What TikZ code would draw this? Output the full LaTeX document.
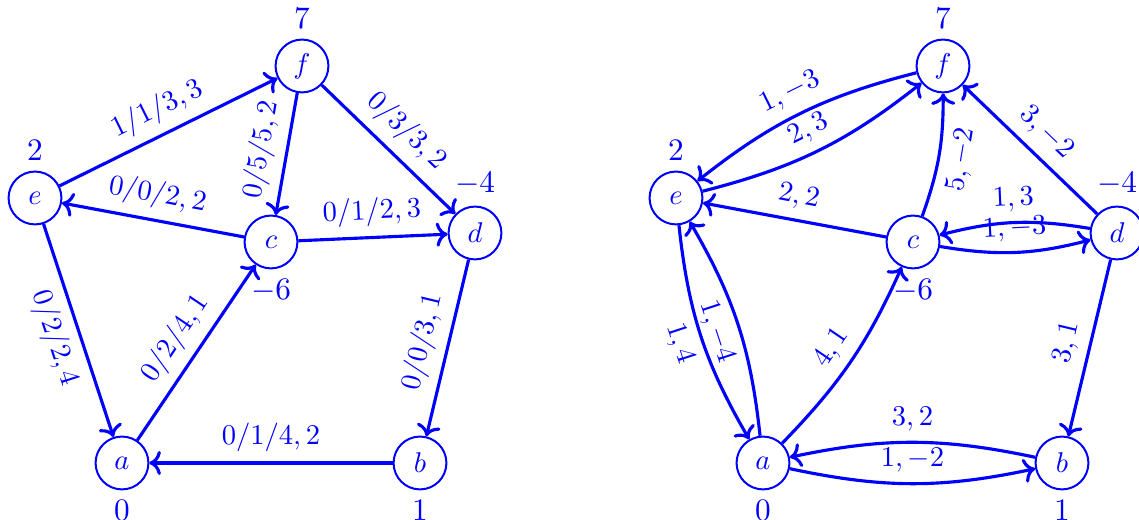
\documentclass[tikz,border=0pt]{standalone}
\usetikzlibrary{arrows.meta}
\begin{document}
\begin{tikzpicture}[x=0.35pt,y=0.35pt,
  every node/.style={text=blue},
  every label/.style={text=blue,font=\fontsize{11}{13}\selectfont},
  vtx/.style={circle,draw=blue,line width=0.7pt,minimum size=18.5pt,inner sep=0pt},
  arc/.style={draw=blue,line width=1.1pt,->},
  lab/.style={sloped,midway}]
\useasboundingbox (0,0) rectangle (1139,520);
% left graph
\node[vtx,label=below:$0$] (a) at (122,57) {$a$};
\node[vtx,label=below:$1$] (b) at (420,57) {$b$};
\node[vtx,label=below:$-6$] (c) at (271,278) {$c$};
\node[vtx,label=above:$-4$] (d) at (475,287) {$d$};
\node[vtx,label=above:$2$] (e) at (35,322) {$e$};
\node[vtx,label=above:$7$] (f) at (302,454) {$f$};
\draw[arc] (e) -- node[lab,above]{$1/1/3,3$} (f);
\draw[arc] (f) -- node[lab,above]{$0/5/5,2$} (c);
\draw[arc] (f) -- node[lab,above]{$0/3/3,2$} (d);
\draw[arc] (c) -- node[lab,above]{$0/0/2,2$} (e);
\draw[arc] (c) -- node[lab,above]{$0/1/2,3$} (d);
\draw[arc] (e) -- node[lab,below]{$0/2/2,4$} (a);
\draw[arc] (a) -- node[lab,above]{$0/2/4,1$} (c);
\draw[arc] (d) -- node[lab,above]{$0/0/3,1$} (b);
\draw[arc] (b) -- node[lab,above]{$0/1/4,2$} (a);
% right graph
\node[vtx,label=below:$0$] (a2) at (763,57) {$a$};
\node[vtx,label=below:$1$] (b2) at (1062,57) {$b$};
\node[vtx,label=below:$-6$] (c2) at (913,278) {$c$};
\node[vtx,label=above:$-4$] (d2) at (1117,287) {$d$};
\node[vtx,label=above:$2$] (e2) at (676,322) {$e$};
\node[vtx,label=above:$7$] (f2) at (943,454) {$f$};
\draw[arc] (f2) to[bend right=12] node[lab,above]{$1,-3$} (e2);
\draw[arc] (e2) to[bend right=12] node[lab,above]{$2,3$} (f2);
\draw[arc] (c2) -- node[lab,above]{$2,2$} (e2);
\draw[arc] (c2) to[bend right=10] node[lab,below]{$5,-2$} (f2);
\draw[arc] (d2) -- node[lab,above]{$3,-2$} (f2);
\draw[arc] (d2) to[bend right=12] node[lab,above]{$1,3$} (c2);
\draw[arc] (c2) to[bend right=12] node[lab,above]{$1,-3$} (d2);
\draw[arc] (e2) to[bend right=12] node[lab,below]{$1,4$} (a2);
\draw[arc] (a2) to[bend right=12] node[lab,below]{$1,-4$} (e2);
\draw[arc] (a2) to[bend right=10] node[lab,above]{$4,1$} (c2);
\draw[arc] (d2) -- node[lab,above]{$3,1$} (b2);
\draw[arc] (b2) to[bend right=12] node[lab,above]{$3,2$} (a2);
\draw[arc] (a2) to[bend right=12] node[lab,above]{$1,-2$} (b2);
\end{tikzpicture}
\end{document}
